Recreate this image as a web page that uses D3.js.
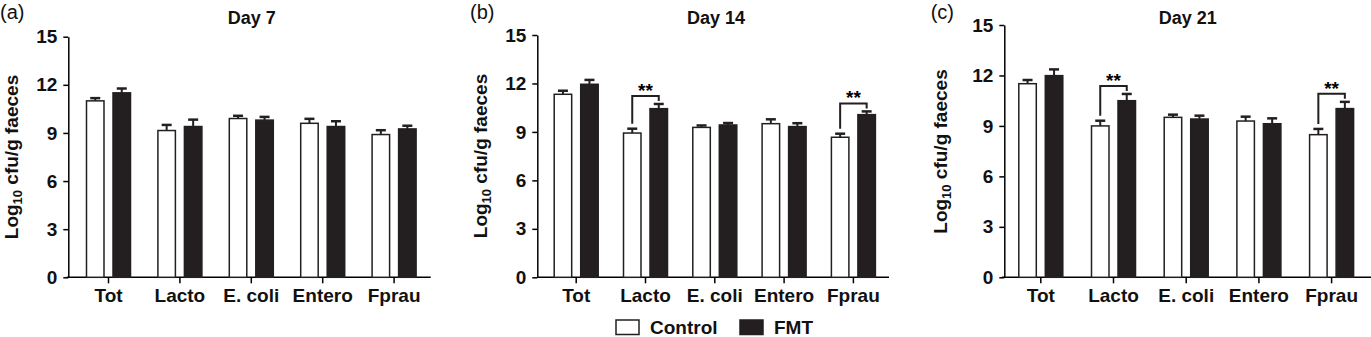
<!DOCTYPE html>
<html>
<head>
<meta charset="utf-8">
<script src="https://cdn.jsdelivr.net/npm/d3@7"></script>
<style>
  body { margin: 0; background: #fff; }
  svg { display: block; font-family: "Liberation Sans", Arial, sans-serif; }
</style>
</head>
<body>
<svg width="1371" height="337"></svg>
<script>
// données
const categories = ["Tot", "Lacto", "E. coli", "Entero", "Fprau"];
const groups = ["Control", "FMT"];
const yTicks = [0, 3, 6, 9, 12, 15];

const day7Control = [11.0, 9.15, 9.9, 9.6, 8.9];
const day7ControlErr = [0.17, 0.35, 0.17, 0.28, 0.27];
const day7FMT = [11.5, 9.4, 9.8, 9.4, 9.25];
const day7FMTErr = [0.27, 0.43, 0.2, 0.33, 0.2];

const day14Control = [11.33, 8.93, 9.28, 9.51, 8.67];
const day14ControlErr = [0.22, 0.27, 0.12, 0.27, 0.22];
const day14FMT = [11.95, 10.44, 9.43, 9.33, 10.07];
const day14FMTErr = [0.27, 0.29, 0.12, 0.21, 0.2];

const day21Control = [11.51, 9.0, 9.51, 9.29, 8.48];
const day21ControlErr = [0.22, 0.31, 0.16, 0.26, 0.34];
const day21FMT = [11.99, 10.5, 9.41, 9.13, 10.03];
const day21FMTErr = [0.37, 0.4, 0.2, 0.32, 0.4];

const day14Sig = ["Lacto", "Fprau"];
const day21Sig = ["Lacto", "Fprau"];

// mise en page des 3 panneaux
const panels = [
  { tag: "(a)", title: "Day 7", ctrl: day7Control, ctrlErr: day7ControlErr, fmt: day7FMT, fmtErr: day7FMTErr, sig: [],
    axisX: 68.3, top: 36.7, first: 108.5, step: 71.4, lineL: 66.7, lineR: 430.7, titleX: 251.7, labX: 17.5, labY: 157, tagX: 0 },
  { tag: "(b)", title: "Day 14", ctrl: day14Control, ctrlErr: day14ControlErr, fmt: day14FMT, fmtErr: day14FMTErr, sig: day14Sig,
    axisX: 537.3, top: 35, first: 576.2, step: 69.3, lineL: 537.3, lineR: 889, titleX: 716, labX: 487, labY: 156, tagX: 470 },
  { tag: "(c)", title: "Day 21", ctrl: day21Control, ctrlErr: day21ControlErr, fmt: day21FMT, fmtErr: day21FMTErr, sig: day21Sig,
    axisX: 1004.3, top: 25, first: 1040.8, step: 72.7, lineL: 1002, lineR: 1371, titleX: 1187.7, labX: 947, labY: 151.5, tagX: 930.7 }
];

const y0 = 277.3;
const dark = "#231f20";
const svg = d3.select("svg");

panels.forEach(p => {
  const g = svg.append("g");

  const y = d3.scaleLinear().domain([0, 15]).range([y0, p.top]);
  const x = d3.scaleBand().domain(categories)
    .range([p.first - p.step / 2, p.first + p.step * 4.5]).padding(0);
  const x1 = d3.scaleBand().domain(groups).range([-22, 22]).paddingInner(0.34);

  // axe Y
  const ya = g.append("g")
    .attr("transform", "translate(" + p.axisX + ",0)")
    .call(d3.axisLeft(y).tickValues(yTicks).tickSize(5).tickPadding(6).tickSizeOuter(0));
  ya.select(".domain").attr("stroke", "#000").attr("stroke-width", 1.5);
  ya.selectAll(".tick line").attr("stroke-width", 1.5);
  ya.selectAll("text").attr("font-size", 19).attr("font-weight", "bold").attr("fill", "#111");

  // axe X
  const xa = g.append("g")
    .attr("transform", "translate(0," + y0 + ")")
    .call(d3.axisBottom(x).tickSize(6).tickPadding(5).tickSizeOuter(0));
  xa.select(".domain").remove();
  xa.selectAll(".tick line").attr("stroke-width", 1.5);
  xa.selectAll("text").attr("font-size", 19).attr("font-weight", "bold").attr("fill", "#111");
  g.append("line")
    .attr("x1", p.lineL).attr("x2", p.lineR).attr("y1", y0).attr("y2", y0)
    .attr("stroke", "#000").attr("stroke-width", 1.5);

  // barres
  const rows = categories.map((c, i) => [
    { cat: c, grp: "Control", v: p.ctrl[i], e: p.ctrlErr[i] },
    { cat: c, grp: "FMT", v: p.fmt[i], e: p.fmtErr[i] }
  ]).flat();

  const cx = d => x(d.cat) + x.bandwidth() / 2 + x1(d.grp);

  // barres d'erreur
  g.selectAll(".err").data(rows).enter().append("line")
    .attr("x1", d => cx(d) + x1.bandwidth() / 2).attr("x2", d => cx(d) + x1.bandwidth() / 2)
    .attr("y1", d => y(d.v)).attr("y2", d => y(d.v + d.e))
    .attr("stroke", dark).attr("stroke-width", 2);
  g.selectAll(".cap").data(rows).enter().append("line")
    .attr("x1", d => cx(d) + x1.bandwidth() / 2 - 5).attr("x2", d => cx(d) + x1.bandwidth() / 2 + 5)
    .attr("y1", d => y(d.v + d.e)).attr("y2", d => y(d.v + d.e))
    .attr("stroke", dark).attr("stroke-width", 2.5);

  g.selectAll(".bar").data(rows).enter().append("rect")
    .attr("x", d => cx(d)).attr("width", x1.bandwidth())
    .attr("y", d => y(d.v)).attr("height", d => y0 - y(d.v))
    .attr("fill", d => d.grp === "FMT" ? dark : "#fff")
    .attr("stroke", dark).attr("stroke-width", 1.5);

  // significativité
  p.sig.forEach(c => {
    const i = categories.indexOf(c);
    const xl = x(c) + x.bandwidth() / 2 + x1("Control") + x1.bandwidth() / 2;
    const xr = x(c) + x.bandwidth() / 2 + x1("FMT") + x1.bandwidth() / 2;
    const yl = y(p.ctrl[i] + p.ctrlErr[i]) - 5;
    const yr = y(p.fmt[i] + p.fmtErr[i]) - 3;
    const yt = y(p.fmt[i] + p.fmtErr[i]) - 8;
    g.append("path")
      .attr("d", "M" + xl + "," + yl + "V" + yt + "H" + xr + "V" + yr)
      .attr("fill", "none").attr("stroke", dark).attr("stroke-width", 2);
    g.append("text").attr("x", (xl + xr) / 2).attr("y", yt + 1)
      .attr("text-anchor", "middle").attr("font-size", 19).attr("font-weight", "bold")
      .text("**");
  });

  // titres
  g.append("text").attr("x", p.titleX).attr("y", 24).attr("text-anchor", "middle")
    .attr("font-size", 18).attr("font-weight", "bold").attr("fill", "#111").text(p.title);
  g.append("text").attr("x", p.tagX).attr("y", 19)
    .attr("font-size", 20).attr("fill", "#111").text(p.tag);

  const lab = g.append("text")
    .attr("transform", "translate(" + p.labX + "," + p.labY + ") rotate(-90)")
    .attr("text-anchor", "middle").attr("font-size", 19).attr("font-weight", "bold").attr("fill", "#111");
  lab.append("tspan").text("Log");
  lab.append("tspan").attr("font-size", 13).attr("dy", 4).text("10");
  lab.append("tspan").attr("dy", -4).text(" cfu/g faeces");
});

// légende
const legend = svg.append("g");
const legX = [616, 740];
legend.selectAll("rect").data(groups).enter().append("rect")
  .attr("x", (d, i) => legX[i]).attr("y", 320).attr("width", 23).attr("height", 14.5)
  .attr("fill", (d, i) => i ? dark : "#fff").attr("stroke", dark).attr("stroke-width", 1.5);
legend.selectAll("text").data(groups).enter().append("text")
  .attr("x", (d, i) => legX[i] + 34).attr("y", 334)
  .attr("font-size", 19).attr("font-weight", "bold").attr("fill", "#111").text(d => d);
</script>
</body>
</html>
